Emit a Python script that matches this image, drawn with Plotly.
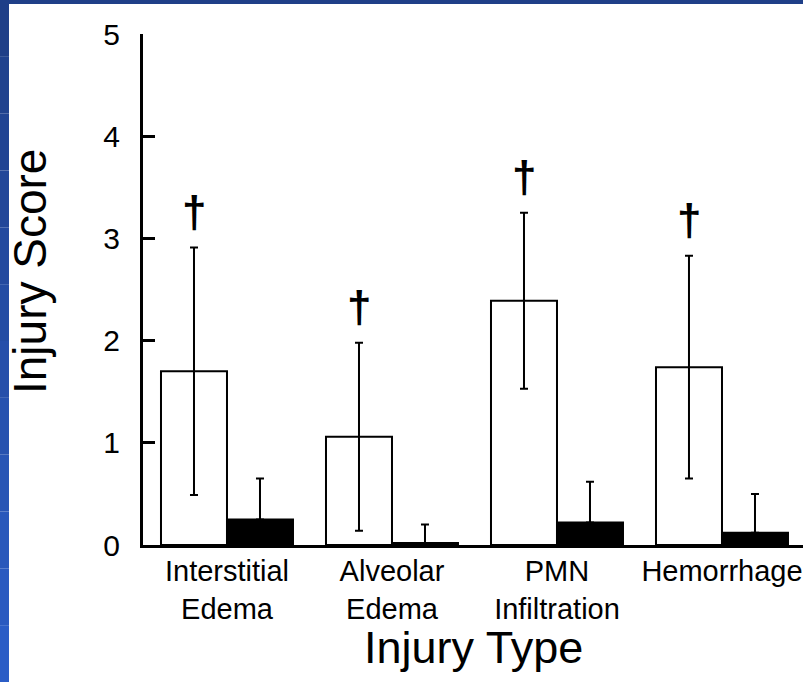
import plotly.graph_objects as go

categories = ["Interstitial<br>Edema", "Alveolar<br>Edema", "PMN<br>Infiltration", "Hemorrhage"]
open_mean = [1.70, 1.06, 2.39, 1.74]
open_sd = [1.21, 0.92, 0.86, 1.09]
black_mean = [0.25, 0.02, 0.22, 0.12]
black_sd = [0.40, 0.18, 0.40, 0.38]
significant = [True, True, True, True]

W, H = 803, 682
ML, MR, MT, MB = 143, 0, 34, 137
BARGAP = 0.2
FONT = "Liberation Sans, Arial, sans-serif"

fig = go.Figure()
fig.add_trace(go.Bar(
    x=categories, y=open_mean, name="open",
    marker=dict(color="white", line=dict(color="black", width=2)),
    error_y=dict(type="data", array=open_sd, visible=True, color="black", thickness=2, width=4),
))
fig.add_trace(go.Bar(
    x=categories, y=black_mean, name="black",
    marker=dict(color="black", line=dict(color="black", width=2)),
    error_y=dict(type="data", array=black_sd, arrayminus=[0] * len(black_sd), symmetric=False,
                 visible=True, color="black", thickness=2, width=4),
))

bar_w = (1 - BARGAP) / 2
annotations = []
for i, (m, s, sig) in enumerate(zip(open_mean, open_sd, significant)):
    if sig:
        annotations.append(dict(x=i - bar_w / 2, y=m + s, xref="x", yref="y", text="<b>†</b>",
                                showarrow=False, yanchor="bottom", yshift=10,
                                font=dict(family=FONT, size=44, color="black")))

pw = W - ML - MR
ph = H - MT - MB
def px_x(p):
    return (p - ML) / pw
def px_y(p):
    return (H - MB - p) / ph

annotations.append(dict(xref="paper", yref="paper", x=px_x(30), y=px_y(272), text="Injury Score",
                        textangle=-90, showarrow=False, xanchor="center", yanchor="middle",
                        font=dict(family=FONT, size=46, color="black")))
annotations.append(dict(xref="paper", yref="paper", x=0.5, y=px_y(647), text="Injury Type",
                        showarrow=False, xanchor="center", yanchor="middle",
                        font=dict(family=FONT, size=45, color="black")))

shapes = []
# top blue strip
shapes.append(dict(type="rect", xref="paper", yref="paper", x0=px_x(0), x1=px_x(W), y0=px_y(0), y1=px_y(4),
                   fillcolor="#1f3f88", line=dict(width=0), layer="above"))
# left gradient strip
n = 12
c0 = (0x1f, 0x3f, 0x88)
c1 = (0x2b, 0x5d, 0xc6)
for k in range(n):
    t = k / (n - 1)
    c = tuple(int(round(a + (b - a) * t)) for a, b in zip(c0, c1))
    shapes.append(dict(type="rect", xref="paper", yref="paper", x0=px_x(0), x1=px_x(9),
                       y0=px_y(H * k / n), y1=px_y(H * (k + 1) / n),
                       fillcolor="rgb(%d,%d,%d)" % c, line=dict(width=0), layer="above"))

fig.update_layout(
    width=W, height=H,
    margin=dict(l=ML, r=MR, t=MT, b=MB, pad=0),
    paper_bgcolor="white", plot_bgcolor="white",
    barmode="group", bargap=BARGAP, bargroupgap=0,
    showlegend=False,
    annotations=annotations, shapes=shapes,
    font=dict(family=FONT, color="black"),
)
fig.update_xaxes(
    range=[-0.509, 3.491], showgrid=False, zeroline=False,
    showline=True, linecolor="black", linewidth=3,
    ticks="", tickfont=dict(family=FONT, size=29, color="black"),
    ticklabelstandoff=-2,
)
fig.update_yaxes(
    range=[0, 5], tickvals=[0, 1, 2, 3, 4, 5], showgrid=False, zeroline=False,
    showline=True, linecolor="black", linewidth=3,
    ticks="inside", ticklen=12, tickwidth=3, tickcolor="black",
    tickfont=dict(family=FONT, size=30, color="black"),
    ticklabelstandoff=14,
)
fig.write_html("out.html")
